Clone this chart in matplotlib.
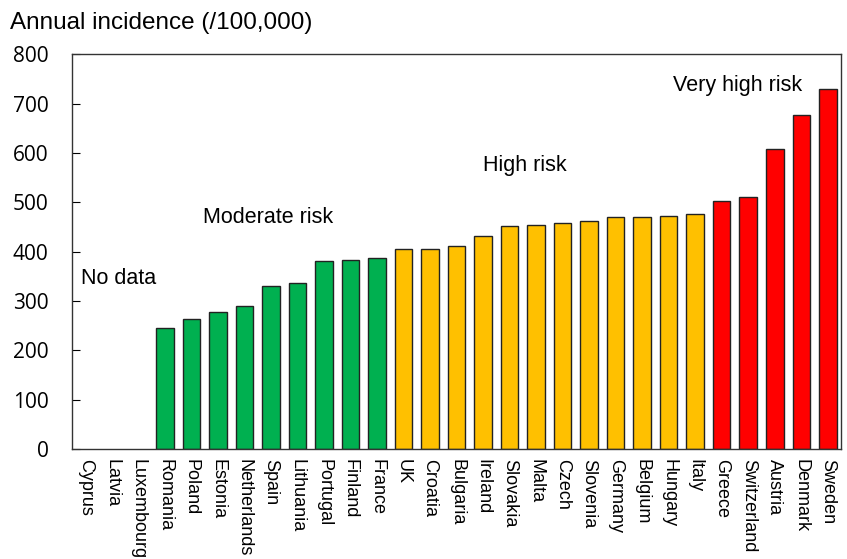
import matplotlib
matplotlib.use('Agg')
import matplotlib.pyplot as plt
import numpy as np

plt.rcParams['font.family'] = ['Liberation Sans', 'DejaVu Sans']

countries = ['Cyprus', 'Latvia', 'Luxembourg', 'Romania', 'Poland', 'Estonia',
             'Netherlands', 'Spain', 'Lithuania', 'Portugal', 'Finland', 'France',
             'UK', 'Croatia', 'Bulgaria', 'Ireland', 'Slovakia', 'Malta', 'Czech',
             'Slovenia', 'Germany', 'Belgium', 'Hungary', 'Italy', 'Greece',
             'Switzerland', 'Austria', 'Denmark', 'Sweden']
incidence = [np.nan, np.nan, np.nan, 246, 263, 278, 290, 330, 336, 381, 382, 387,
             405, 406, 411, 431, 451, 454, 457, 461, 470, 471, 472, 476, 503,
             510, 608, 677, 730]
risk = ['none'] * 3 + ['moderate'] * 9 + ['high'] * 12 + ['very'] * 5
risk_colors = {'none': 'white', 'moderate': '#00B050', 'high': '#FFC000', 'very': '#FF0000'}

fig = plt.figure(figsize=(8.47, 5.59), dpi=100)
ax = fig.add_axes([0.085, 0.197, 0.908, 0.706])

x = np.arange(len(countries))
vals = np.array(incidence, dtype=float)
mask = ~np.isnan(vals)
ax.bar(x[mask], vals[mask], width=0.66,
       color=[risk_colors[r] for r, m in zip(risk, mask) if m],
       edgecolor='#222222', linewidth=1.0)

ax.set_xlim(-0.5, len(countries) - 0.5)
ax.set_ylim(0, 800)
ax.set_yticks(range(0, 801, 100))
ax.tick_params(axis='y', direction='in', length=6, labelsize=15, pad=17)
for lab in ax.get_yticklabels():
    lab.set_family(['Open Sans', 'DejaVu Sans'])
ax.set_xticks(x)
ax.set_xticklabels(countries, rotation=270, fontsize=13, va='top', ha='center')
ax.tick_params(axis='x', length=0, pad=7)
for s in ax.spines.values():
    s.set_color('#333333')
    s.set_linewidth(1.0)

ax.text(-0.16, 346, 'No data', fontsize=15.5, va='center', ha='left')
ax.text(4.44, 470, 'Moderate risk', fontsize=15.5, va='center', ha='left')
ax.text(15.0, 575, 'High risk', fontsize=15.5, va='center', ha='left')
ax.text(22.16, 737, 'Very high risk', fontsize=15.5, va='center', ha='left')

fig.text(0.012, 0.958, 'Annual incidence (/100,000)', fontsize=17.5, va='center', ha='left')

fig.savefig('out.png', dpi=100)
